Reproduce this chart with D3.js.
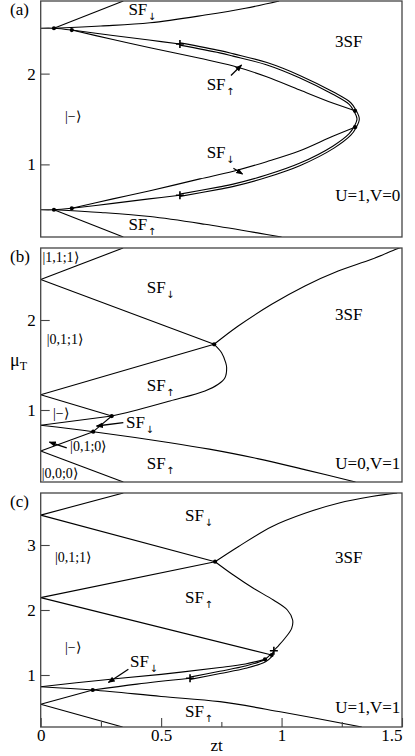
<!DOCTYPE html>
<html>
<head>
<meta charset="utf-8">
<script src="https://cdn.jsdelivr.net/npm/d3@7"></script>
<style>
body { margin: 0; background: #fff; }
svg text { font-family: "Liberation Serif", "Times New Roman", serif; fill: #000; }
svg text tspan.arr { font-family: "DejaVu Sans", sans-serif; }
</style>
</head>
<body>
<svg id="chart" width="415" height="756"></svg>
<script>
// ---- values (zt, mu_T) ----
const xMajor = [0, 0.5, 1, 1.5];
const xMinor = [0.25, 0.75, 1.25];

// panel (a)  U=1, V=0
const aTicks = [1, 2];
const aFlatUp = [[0, 2.5], [0.055, 2.5], [0.129, 2.48]];
const aFlatDown = [[0, 0.5], [0.055, 0.5], [0.129, 0.516]];
const aSteepUp = [[0.055, 2.5], [0.343, 2.8]];
const aSteepDown = [[0.055, 0.5], [0.343, 0.2]];
const aEdgeUp = [[0.055, 2.5], [0.25, 2.525], [0.454, 2.56], [0.682, 2.645], [0.85, 2.72], [0.99, 2.8]];
const aEdgeDown = [[0.055, 0.5], [0.25, 0.47], [0.454, 0.425], [0.682, 0.34], [0.911, 0.24], [1.0, 0.2]];
const aInnerUp = [[0.129, 2.48], [0.30, 2.375], [0.454, 2.285], [0.661, 2.169], [0.80, 2.084], [0.938, 1.966], [1.076, 1.819], [1.215, 1.673], [1.305, 1.59]];
const aInnerDown = [[0.129, 0.516], [0.30, 0.62], [0.454, 0.71], [0.661, 0.84], [0.80, 0.925], [0.938, 1.03], [1.076, 1.15], [1.215, 1.313], [1.305, 1.41]];
const aOuterUp = [[0.129, 2.48], [0.30, 2.42], [0.45, 2.37], [0.578, 2.326]];
const aOuterDown = [[0.129, 0.516], [0.30, 0.57], [0.45, 0.62], [0.578, 0.66]];
const aLoop = [[0.578, 2.326], [0.744, 2.241], [0.80, 2.205], [0.938, 2.11], [1.076, 1.966], [1.215, 1.783], [1.284, 1.67], [1.305, 1.59], [1.318, 1.50], [1.305, 1.41], [1.284, 1.33], [1.215, 1.19], [1.076, 1.0], [0.938, 0.87], [0.80, 0.77], [0.744, 0.74], [0.578, 0.66]];
const aDots = [[0.055, 2.5], [0.129, 2.48], [0.055, 0.5], [0.129, 0.516], [1.305, 1.59], [1.305, 1.41]];
const aCross = [[0.578, 2.326], [0.578, 0.66]];
const aLabels = [["SF", "\u2193", 0.364, 2.646], ["3SF", "", 1.222, 2.293], ["SF", "\u2191", 0.689, 1.82],
                 ["SF", "\u2193", 0.689, 1.067], ["SF", "\u2191", 0.364, 0.277]];
const aKets = [["|\u2212\u27e9", 0.101, 1.478]];
const aArrows = [[[0.79, 1.98], [0.834, 2.095]], [[0.80, 0.957], [0.838, 0.894]]];

// panel (b)  U=0, V=1
const bTicks = [1, 2];
const bTop1 = [[0, 2.45], [0.342, 2.8]];
const bTop2 = [[0, 2.45], [0.72, 1.73]];
const bMid1 = [[0, 1.17], [0.72, 1.73]];
const bRise = [[0.72, 1.73], [0.82, 1.933], [0.959, 2.174], [1.097, 2.378], [1.235, 2.544], [1.374, 2.674], [1.478, 2.79], [1.5, 2.81]];
const bBulge = [[0.72, 1.73], [0.751, 1.637], [0.768, 1.526], [0.772, 1.47], [0.765, 1.359], [0.737, 1.286], [0.682, 1.211], [0.537, 1.10], [0.40, 1.0], [0.295, 0.933]];
const bLink = [[0.218, 0.759], [0.295, 0.933]];
const bLow1 = [[0, 0.544], [0.218, 0.759]];
const bLow2 = [[0, 0.544], [0.343, 0.2]];
const bMid2 = [[0, 1.17], [0.295, 0.933]];
const bMid3 = [[0, 0.83], [0.295, 0.933]];
const bFall = [[0, 0.83], [0.218, 0.759], [0.537, 0.637], [0.70, 0.565], [0.90, 0.46], [1.10, 0.335], [1.307, 0.2]];
const bDots = [[0.72, 1.73], [0.295, 0.933], [0.218, 0.759]];
const bLabels = [["SF", "\u2193", 0.44, 2.303], ["SF", "\u2191", 0.44, 1.211], ["SF", "\u2193", 0.354, 0.8],
                 ["SF", "\u2191", 0.44, 0.344], ["3SF", "", 1.222, 2.0]];
const bKets = [["|1,1;1\u27e9", 0.007, 2.644], ["|0,1;1\u27e9", 0.025, 1.733], ["|\u2212\u27e9", 0.051, 0.911],
               ["|0,1;0\u27e9", 0.122, 0.544], ["|0,0;0\u27e9", 0.004, 0.244]];
const bArrows = [[[0.343, 0.859], [0.232, 0.822]], [[0.108, 0.578], [0.036, 0.644]]];

// panel (c)  U=1, V=1
const cTicks = [1, 2, 3];
const cTop1 = [[0, 3.46], [0.343, 3.8]];
const cTop2 = [[0, 3.46], [0.724, 2.743]];
const cMid1 = [[0, 2.19], [0.724, 2.743]];
const cMid2 = [[0, 2.19], [0.959, 1.308]];
const cRise = [[0.724, 2.743], [0.82, 2.974], [0.959, 3.282], [1.097, 3.488], [1.235, 3.642], [1.374, 3.745], [1.48, 3.8]];
const cBulge = [[0.724, 2.743], [0.80, 2.538], [0.883, 2.334], [0.966, 2.154], [1.024, 2.0], [1.046, 1.846], [1.042, 1.718], [1.014, 1.565], [0.986, 1.446], [0.968, 1.374], [0.959, 1.308]];
const cLow1 = [[0, 0.55], [0.216, 0.769]];
const cLow2 = [[0, 0.55], [0.34, 0.2]];
const cFall = [[0, 0.82], [0.216, 0.769], [0.50, 0.67], [0.744, 0.59], [1.0, 0.43], [1.333, 0.2]];
const cUpper = [[0, 0.82], [0.25, 0.92], [0.50, 1.01], [0.744, 1.115], [0.85, 1.17], [0.931, 1.24]];
const cStem = [[0.216, 0.769], [0.40, 0.86], [0.62, 0.95]];
const cDouble = [[0.62, 0.95], [0.744, 1.04], [0.85, 1.12], [0.931, 1.22], [0.959, 1.308]];
const cDots = [[0.724, 2.743], [0.216, 0.769], [0.931, 1.24], [0.959, 1.308]];
const cCross = [[0.62, 0.95], [0.968, 1.374]];
const cLabels = [["SF", "\u2193", 0.599, 3.369], ["SF", "\u2191", 0.599, 2.108], ["SF", "\u2193", 0.371, 1.128],
                 ["SF", "\u2191", 0.599, 0.358], ["3SF", "", 1.222, 2.723]];
const cKets = [["|0,1;1\u27e9", 0.059, 2.738], ["|\u2212\u27e9", 0.101, 1.354]];
const cArrows = [[[0.364, 1.088], [0.281, 0.885]]];

const svg = d3.select("#chart");
const x = d3.scaleLinear().domain([0, 1.5]).range([40.7, 402]);

svg.append("defs").append("marker")
    .attr("id", "head").attr("viewBox", "0 0 10 10").attr("refX", 9).attr("refY", 5)
    .attr("markerWidth", 7).attr("markerHeight", 7).attr("markerUnits", "userSpaceOnUse")
    .attr("orient", "auto")
  .append("path").attr("d", "M0,1L10,5L0,9z").attr("fill", "#000");

const panels = [
  {id: "a", tag: "(a)", top: 1, bottom: 237, mu: [0.2, 2.8], ticks: aTicks, caseText: "U=1,V=0", caseMu: 0.597,
   lines: [aFlatUp, aFlatDown, aSteepUp, aSteepDown, aEdgeUp, aEdgeDown, aInnerUp, aInnerDown, aOuterUp, aOuterDown],
   doubles: [aLoop], dots: aDots, cross: aCross, labels: aLabels, kets: aKets, arrows: aArrows},
  {id: "b", tag: "(b)", top: 248, bottom: 482, mu: [0.2, 2.8], ticks: bTicks, caseText: "U=0,V=1", caseMu: 0.344,
   lines: [bTop1, bTop2, bMid1, bRise, bBulge, bLink, bLow1, bLow2, bMid2, bMid3, bFall],
   doubles: [], dots: bDots, cross: [], labels: bLabels, kets: bKets, arrows: bArrows},
  {id: "c", tag: "(c)", top: 493, bottom: 727, mu: [0.2, 3.8], ticks: cTicks, caseText: "U=1,V=1", caseMu: 0.415,
   lines: [cTop1, cTop2, cMid1, cMid2, cRise, cBulge, cLow1, cLow2, cFall, cUpper, cStem],
   doubles: [cDouble], dots: cDots, cross: cCross, labels: cLabels, kets: cKets, arrows: cArrows}
];

panels.forEach(function(p) {
  const y = d3.scaleLinear().domain(p.mu).range([p.bottom, p.top]);
  const line = d3.line().x(d => x(d[0])).y(d => y(d[1])).curve(d3.curveCatmullRom.alpha(0.5));
  const g = svg.append("g");

  g.append("clipPath").attr("id", "clip-" + p.id)
    .append("rect").attr("x", x(0)).attr("y", p.top).attr("width", x(1.5) - x(0)).attr("height", p.bottom - p.top);

  const plot = g.append("g").attr("clip-path", "url(#clip-" + p.id + ")");

  plot.selectAll("path.curve").data(p.lines).enter().append("path")
      .attr("class", "curve").attr("d", line)
      .attr("fill", "none").attr("stroke", "#000").attr("stroke-width", 1.1);

  // double lines: thick black with a thin white core
  plot.selectAll("path.dbl").data(p.doubles).enter().append("path")
      .attr("class", "dbl").attr("d", line)
      .attr("fill", "none").attr("stroke", "#000").attr("stroke-width", 3.4);
  plot.selectAll("path.dblcore").data(p.doubles).enter().append("path")
      .attr("class", "dblcore").attr("d", line)
      .attr("fill", "none").attr("stroke", "#fff").attr("stroke-width", 1.2);

  plot.selectAll("circle").data(p.dots).enter().append("circle")
      .attr("cx", d => x(d[0])).attr("cy", d => y(d[1])).attr("r", 2.1).attr("fill", "#000");

  plot.selectAll("path.cross").data(p.cross).enter().append("path")
      .attr("class", "cross")
      .attr("d", d => "M" + (x(d[0]) - 4) + "," + y(d[1]) + "h8M" + x(d[0]) + "," + (y(d[1]) - 4) + "v8")
      .attr("stroke", "#000").attr("stroke-width", 1.6);

  g.selectAll("line.arrow").data(p.arrows).enter().append("line")
      .attr("class", "arrow")
      .attr("x1", d => x(d[0][0])).attr("y1", d => y(d[0][1]))
      .attr("x2", d => x(d[1][0])).attr("y2", d => y(d[1][1]))
      .attr("stroke", "#000").attr("stroke-width", 1.3).attr("marker-end", "url(#head)");

  // frame
  g.append("rect").attr("x", x(0)).attr("y", p.top).attr("width", x(1.5) - x(0)).attr("height", p.bottom - p.top)
      .attr("fill", "none").attr("stroke", "#444").attr("stroke-width", 1.3);

  // y axis with inward ticks
  const ya = g.append("g").attr("transform", "translate(" + x(0) + ",0)")
      .call(d3.axisLeft(y).tickValues(p.ticks).tickFormat(d3.format("d")).tickSize(-9).tickSizeOuter(0).tickPadding(5));
  ya.select(".domain").remove();
  ya.selectAll("text").attr("font-size", 17);
  ya.selectAll("line").attr("stroke", "#444").attr("stroke-width", 1.1);

  const lab = g.selectAll("text.sf").data(p.labels).enter().append("text")
      .attr("class", "sf").attr("x", d => x(d[2])).attr("y", d => y(d[3])).attr("font-size", 17);
  lab.append("tspan").text(d => d[0]);
  lab.append("tspan").attr("class", "arr").attr("font-size", 10).attr("dy", 5).attr("dx", 0.5).text(d => d[1]);

  g.selectAll("text.ket").data(p.kets).enter().append("text")
      .attr("class", "ket").attr("x", d => x(d[1])).attr("y", d => y(d[2]))
      .attr("font-size", 14).text(d => d[0]);

  g.append("text").attr("x", x(1.493)).attr("y", y(p.caseMu)).attr("text-anchor", "end")
      .attr("font-size", 17).text(p.caseText);

  g.append("text").attr("x", 10).attr("y", p.top + 14).attr("font-size", 17).text(p.tag);

  if (p.id === "c") {
    const xa = g.append("g").attr("transform", "translate(0," + p.bottom + ")")
        .call(d3.axisBottom(x).tickValues(xMajor).tickFormat(d => d).tickSize(-9).tickSizeOuter(0).tickPadding(2));
    xa.select(".domain").remove();
    xa.selectAll("text").attr("font-size", 17);
    xa.selectAll("line").attr("stroke", "#444").attr("stroke-width", 1.1);
    xa.selectAll(".tick").filter(d => d === 1.5).select("text").attr("text-anchor", "end");

    const xm = g.append("g").attr("transform", "translate(0," + p.bottom + ")")
        .call(d3.axisBottom(x).tickValues(xMinor).tickFormat("").tickSize(-5).tickSizeOuter(0));
    xm.select(".domain").remove();
    xm.selectAll("line").attr("stroke", "#444").attr("stroke-width", 1.1);

    g.append("text").attr("x", x(0.73)).attr("y", 751).attr("text-anchor", "middle")
        .attr("font-size", 17).text("zt");
  }
  if (p.id === "b") {
    const mu = g.append("text").attr("x", 10).attr("y", 366).attr("font-size", 18);
    mu.append("tspan").text("\u03bc");
    mu.append("tspan").attr("font-size", 12).attr("dy", 4).text("T");
  }
});
</script>
</body>
</html>
